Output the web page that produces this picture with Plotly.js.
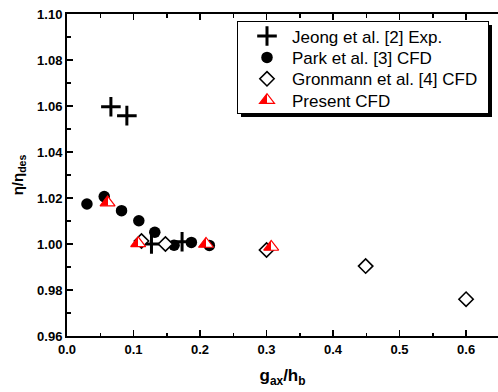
<!DOCTYPE html>
<html>
<head>
<meta charset="utf-8">
<script src="https://cdn.plot.ly/plotly-3.0.1.min.js"></script>
<style>html,body{margin:0;padding:0;background:#fff;}#chart{width:498px;height:392px;}</style>
</head>
<body>
<div id="chart"></div>
<script>
// Data
const jeongX = [0.066, 0.090, 0.127, 0.173];
const jeongY = [1.0597, 1.0558, 1.0000, 1.0010];

const parkX = [0.030, 0.056, 0.082, 0.108, 0.132, 0.161, 0.187, 0.214];
const parkY = [1.0174, 1.0206, 1.0145, 1.0101, 1.0051, 0.9995, 1.0007, 0.9994];

const gronX = [0.112, 0.148, 0.300, 0.449, 0.600];
const gronY = [1.0013, 1.0000, 0.9974, 0.9904, 0.9760];

const presX = [0.061, 0.107, 0.209, 0.307];
const presY = [1.0180, 1.0003, 1.0000, 0.9987];

const seriesNames = ["Jeong et al. [2] Exp.", "Park et al. [3] CFD", "Gronmann et al. [4] CFD", "Present CFD"];

const FONT = "'Liberation Sans', Arial, sans-serif";

const traces = [
  {x: jeongX, y: jeongY, name: seriesNames[0], type: 'scatter', mode: 'markers',
   marker: {symbol: 'cross-thin', size: 14, color: 'black', line: {color: 'black', width: 3}}},
  {x: parkX, y: parkY, name: seriesNames[1], type: 'scatter', mode: 'markers',
   marker: {symbol: 'circle', size: 11.5, color: 'black', line: {width: 0}}},
  {x: gronX, y: gronY, name: seriesNames[2], type: 'scatter', mode: 'markers',
   marker: {symbol: 'diamond', size: 11, color: 'white', line: {color: 'black', width: 1.6}}},
  {x: presX, y: presY, name: seriesNames[3], type: 'scatter', mode: 'markers',
   marker: {symbol: 'triangle-up', size: 13, color: 'red', line: {color: 'red', width: 1.2},
            gradient: {type: 'horizontal', color: 'white'}}}
];

// plot area in pixels: left 67, right 498, top 14, bottom 336
const L = 67, R = 498, T = 14, B = 336;
const px = v => (v - L) / (R - L);
const py = v => (B - v) / (B - T);

// legend box as seen in the reference (pixels)
const LEG = {left: 237, top: 21, right: 488, bottom: 113, textLeft: 292, markerX: 267, firstRowY: 36, rowStep: 21.4, shadow: 4};

const layout = {
  width: 498, height: 392,
  margin: {l: L, r: 498 - R, t: T, b: 392 - B, pad: 0},
  paper_bgcolor: 'white', plot_bgcolor: 'white',
  font: {family: FONT, color: 'black'},
  showlegend: true,
  xaxis: {
    range: [0, 0.648], tickvals: [0, 0.1, 0.2, 0.3, 0.4, 0.5, 0.6], tickformat: '.1f',
    ticks: 'inside', ticklen: 6, tickwidth: 1.5, tickcolor: 'black',
    minor: {dtick: 0.05, tick0: 0, ticks: 'inside', ticklen: 3.5, tickwidth: 1.5, tickcolor: 'black'},
    showline: true, linecolor: 'black', linewidth: 2, mirror: 'ticks',
    showgrid: false, zeroline: false,
    tickfont: {family: FONT, size: 13, weight: 'bold'},
    title: {text: 'g<sub>ax</sub>/h<sub>b</sub>', font: {family: FONT, size: 17, weight: 'bold'}, standoff: 14}
  },
  yaxis: {
    range: [0.96, 1.10], dtick: 0.02, tick0: 0.96, tickformat: '.2f',
    ticks: 'inside', ticklen: 6, tickwidth: 1.5, tickcolor: 'black',
    minor: {dtick: 0.01, ticks: 'inside', ticklen: 3.5, tickwidth: 1.5, tickcolor: 'black'},
    showline: true, linecolor: 'black', linewidth: 2, mirror: false,
    showgrid: false, zeroline: false,
    tickfont: {family: FONT, size: 13, weight: 'bold'},
    title: {text: 'η/η<sub>des</sub>', font: {family: FONT, size: 15, weight: 'bold'}, standoff: 10}
  },
  legend: {
    x: px(LEG.left), y: py(LEG.top), xanchor: 'left', yanchor: 'top',
    bgcolor: 'white', bordercolor: 'black', borderwidth: 1,
    font: {family: FONT, size: 17, color: 'black'},
    itemwidth: 40, tracegroupgap: 0
  }
};

const SVGNS = 'http://www.w3.org/2000/svg';

// half-filled triangles: left half red, right half white
function hardGradients() {
  document.querySelectorAll('linearGradient').forEach(function (g) {
    g.setAttribute('x1', '0'); g.setAttribute('x2', '1');
    g.setAttribute('y1', '0'); g.setAttribute('y2', '0');
    while (g.firstChild) g.removeChild(g.firstChild);
    [[0, 'red'], [0.5, 'red'], [0.5, 'white'], [1, 'white']].forEach(function (s) {
      const st = document.createElementNS(SVGNS, 'stop');
      st.setAttribute('offset', s[0]);
      st.setAttribute('stop-color', s[1]);
      g.appendChild(st);
    });
  });
}

function parseTranslate(t) {
  const m = /translate\(\s*([-\d.e]+)[ ,]+([-\d.e]+)\s*\)/.exec(t || '');
  return m ? [parseFloat(m[1]), parseFloat(m[2])] : [0, 0];
}

// legend row spacing, placement and drop shadow as in the reference
function styleLegend(gd) {
  const legend = gd.querySelector('g.legend');
  if (!legend) return;
  legend.querySelectorAll('[clip-path]').forEach(function (e) { e.removeAttribute('clip-path'); });
  const chart = gd.getBoundingClientRect();
  const rel = function (el) {
    const r = el.getBoundingClientRect();
    return {l: r.left - chart.left, t: r.top - chart.top, r: r.right - chart.left, b: r.bottom - chart.top,
            cx: (r.left + r.right) / 2 - chart.left, cy: (r.top + r.bottom) / 2 - chart.top};
  };
  const items = Array.from(legend.querySelectorAll('g.traces'));
  if (!items.length) return;
  const first = parseTranslate(items[0].getAttribute('transform'));
  items.forEach(function (it, i) {
    const p = parseTranslate(it.getAttribute('transform'));
    it.setAttribute('transform', 'translate(' + p[0] + ',' + (first[1] + i * LEG.rowStep) + ')');
  });
  const t0 = rel(items[0].querySelector('.legendtext'));
  const lp0 = items[0].querySelector('.legendpoints');
  const m0 = rel(lp0);
  const dx = LEG.textLeft - t0.l, dy = LEG.firstRowY - m0.cy;
  const lt = parseTranslate(legend.getAttribute('transform'));
  legend.setAttribute('transform', 'translate(' + (lt[0] + dx) + ',' + (lt[1] + dy) + ')');
  const mShift = LEG.markerX - (m0.cx + dx);
  legend.querySelectorAll('.legendpoints').forEach(function (g) {
    const old = g.getAttribute('transform') || '';
    g.setAttribute('transform', 'translate(' + mShift + ',0) ' + old);
  });
  const bg = legend.querySelector('rect.bg');
  if (bg) {
    const b = rel(bg);
    const bx = parseFloat(bg.getAttribute('x')) || 0;
    const by = parseFloat(bg.getAttribute('y')) || 0;
    const nx = bx + (LEG.left - b.l), ny = by + (LEG.top - b.t);
    const w = LEG.right - LEG.left, h = LEG.bottom - LEG.top;
    bg.setAttribute('x', nx); bg.setAttribute('y', ny);
    bg.setAttribute('width', w); bg.setAttribute('height', h);
    const sh = document.createElementNS(SVGNS, 'rect');
    sh.setAttribute('x', nx + LEG.shadow); sh.setAttribute('y', ny + LEG.shadow);
    sh.setAttribute('width', w); sh.setAttribute('height', h);
    sh.setAttribute('fill', 'black');
    if (bg.getAttribute('transform')) sh.setAttribute('transform', bg.getAttribute('transform'));
    bg.parentNode.insertBefore(sh, bg);
  }
}

Plotly.newPlot('chart', traces, layout, {displayModeBar: false, staticPlot: true}).then(function (gd) {
  styleLegend(gd);
  hardGradients();
});
</script>
</body>
</html>
